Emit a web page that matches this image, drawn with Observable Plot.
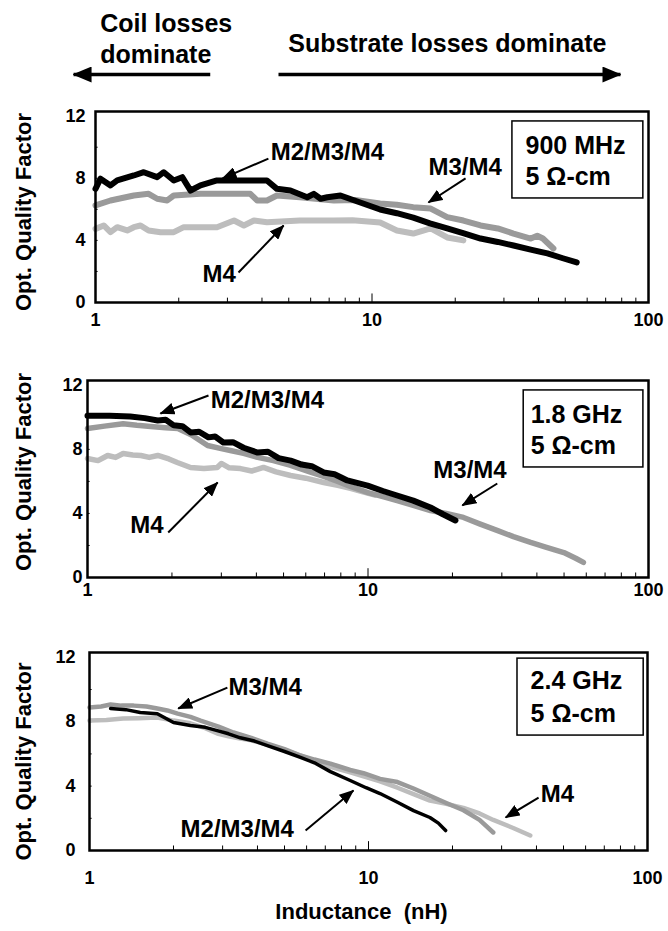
<!DOCTYPE html>
<html><head><meta charset="utf-8">
<script src="https://cdn.jsdelivr.net/npm/d3@7"></script>
<script src="https://cdn.jsdelivr.net/npm/@observablehq/plot@0.6"></script>
<style>
html,body{margin:0;padding:0;background:#fff;}
#fig{position:relative;width:668px;height:931px;overflow:hidden;background:#fff;}
</style></head><body><div id="fig"></div>
<script>
const FONT = "'Liberation Sans', Arial, Helvetica, sans-serif";

// ---------- 900 MHz ----------
const L_900_M234 = [1.0,1.042,1.133,1.198,1.376,1.495,1.671,1.766,1.919,2.059,2.207,2.397,2.75,3.3,3.8,4.17,4.53,5.07,5.83,6.16,6.52,6.89,7.69,8.7,10.7,12.3,14.1,16.2,18.7,21.5,24.7,28.5,32.5,37.5,43.1,49,55];
const Q_900_M234 = [7.32,7.97,7.54,7.86,8.18,8.39,8.07,8.39,7.86,8.07,7.21,7.54,7.86,7.86,7.86,7.86,7.32,7.21,6.78,7.0,6.68,6.78,6.89,6.55,5.99,5.75,5.47,5.1,4.77,4.45,4.12,3.9,3.67,3.4,3.16,2.85,2.58];
const L_900_M34 = [1.0,1.133,1.376,1.556,1.671,1.817,1.919,2.397,3.0,3.63,3.84,4.17,4.53,5.48,7.28,8.7,10.7,12.3,14.1,16.3,18.7,21.4,24.7,28.5,32.5,37.5,39.6,41.5,45.3];
const Q_900_M34 = [6.25,6.57,6.89,7.0,6.68,6.57,6.89,7.0,7.0,7.0,6.57,6.57,6.89,6.78,6.57,6.6,6.37,6.3,6.14,6.05,5.5,5.28,4.96,4.77,4.44,4.12,4.3,4.12,3.48];
const L_900_M4 = [1.0,1.071,1.133,1.198,1.302,1.376,1.455,1.556,1.718,1.919,2.086,2.75,3.17,3.44,3.74,4.17,5.48,7.28,8.5,10.7,12.3,14.1,16.3,18.7,21.4];
const Q_900_M4 = [4.74,4.96,4.53,4.85,4.64,4.85,4.96,4.64,4.53,4.53,4.85,4.85,5.28,4.96,5.28,5.17,5.28,5.28,5.3,5.15,4.64,4.44,4.77,4.19,4.0];

// ---------- 1.8 GHz ----------
const L_18_M234 = [1,1.2,1.42,1.6,1.78,1.9,2.03,2.18,2.33,2.5,2.7,2.85,3.05,3.3,3.6,4.04,4.4,4.8,5.3,5.8,6.3,6.95,7.6,8.44,9.97,11.3,12.7,14.5,16.7,18.5,20.5];
const Q_18_M234 = [10.1,10.1,10.05,9.95,9.8,9.85,9.5,9.45,9.06,9.1,8.75,8.8,8.43,8.45,8.1,7.8,7.85,7.45,7.3,7.05,6.95,6.56,6.45,6.06,5.74,5.4,5.12,4.8,4.37,3.95,3.56];
const L_18_M34 = [1,1.15,1.34,1.5,1.68,1.9,2.1,2.35,2.68,3.0,3.23,3.6,4.04,4.6,5.3,6.2,7.0,7.8,8.6,10,11.3,12.7,14.5,16.7,19,21.9,25,29,33,38,43,49.9,55,58.6];
const Q_18_M34 = [9.3,9.45,9.6,9.5,9.43,9.35,9.3,8.9,8.24,8.05,7.93,7.75,7.5,7.3,7.0,6.6,6.3,6.0,5.7,5.3,5.05,4.8,4.5,4.18,4.0,3.75,3.35,2.93,2.55,2.19,1.9,1.56,1.2,0.94];
const L_18_M4 = [1,1.09,1.18,1.26,1.34,1.45,1.55,1.66,1.78,1.95,2.09,2.33,2.6,2.9,3.0,3.2,3.51,3.85,4.24,4.7,5.3,6.0,6.95,7.8,8.66,9.6,10.6];
const Q_18_M4 = [7.43,7.3,7.62,7.5,7.74,7.65,7.62,7.5,7.62,7.4,7.18,6.87,6.8,6.87,7.12,6.85,6.8,6.65,6.87,6.6,6.37,6.2,5.93,5.75,5.56,5.35,5.15];

// ---------- 2.4 GHz ----------
const L_24_M234 = [1.19,1.35,1.52,1.75,2.0,2.3,2.6,2.87,3.15,3.47,3.9,4.34,5.0,5.7,6.4,7.3,8.6,9.8,11.0,12.7,14.5,16.6,17.8,18.9];
const Q_24_M234 = [8.82,8.75,8.57,8.5,7.95,7.76,7.65,7.45,7.25,7.0,6.8,6.52,6.15,5.78,5.45,4.9,4.35,3.9,3.54,3.0,2.48,2.05,1.7,1.24];
const L_24_M34 = [1,1.1,1.19,1.3,1.44,1.6,1.75,1.9,2.07,2.3,2.5,2.9,3.28,3.8,4.34,5.0,5.7,6.4,7.3,8.6,9.6,11,12.7,14.5,16.6,19,21.9,25,28];
const Q_24_M34 = [8.88,8.95,9.07,9.0,9.0,8.95,8.82,8.7,8.5,8.3,8.07,7.7,7.33,7.0,6.64,6.3,5.9,5.65,5.4,5.0,4.8,4.45,4.25,3.85,3.4,2.95,2.5,1.9,1.12];
const L_24_M4 = [1,1.15,1.32,1.5,1.75,2.0,2.3,2.6,2.87,3.15,3.47,3.8,4.2,4.8,5.5,6.3,7.3,8.6,9.6,11,12.7,14.5,16.6,19,21.9,25,28,33,38];
const Q_24_M4 = [8.07,8.1,8.2,8.22,8.26,8.07,7.9,7.6,7.27,7.1,6.96,6.85,6.64,6.35,6.0,5.6,5.2,4.85,4.6,4.3,3.9,3.5,3.1,2.9,2.65,2.3,1.9,1.4,0.93];

// ---------- ticks & labels ----------
const X_TICKS = [1, 10, 100];
const Y_TICKS = [0, 4, 8, 12];
const X_MINOR = [2,3,4,5,6,7,8,9,20,30,40,50,60,70,80,90];
const Y_MINOR = [2,4,6,8,10];
const Y_LABEL = "Opt. Quality Factor";
const X_LABEL = "Inductance\u00a0 (nH)";

// annotations (data coordinates: inductance nH, quality factor)
const NOTE_900 = [{text:"M2/M3/M4",x:4.30,y:9.69},{text:"M3/M4",x:16.0,y:8.73},{text:"M4",x:2.44,y:1.84}];
const ARROW_900 = [{x1:4.22,y1:9.27,x2:2.88,y2:7.99},{x1:21.8,y1:7.99,x2:16.0,y2:6.44},{x1:3.29,y1:1.93,x2:4.79,y2:4.96}];
const BOX_900 = [{x1:32.2,x2:95.8,y1:6.70,y2:11.66}];
const BOXTEXT_900 = [{text:"900 MHz",x:35.9,y:10.05},{text:"5 Ω-cm",x:35.9,y:8.11}];

const NOTE_18 = [{text:"M2/M3/M4",x:2.75,y:11.08},{text:"M3/M4",x:17.1,y:6.71},{text:"M4",x:1.42,y:3.28}];
const ARROW_18 = [{x1:2.70,y1:11.36,x2:1.82,y2:10.24},{x1:28.9,y1:5.87,x2:21.7,y2:4.50},{x1:1.94,y1:2.81,x2:2.91,y2:5.93}];
const BOX_18 = [{x1:35.9,x2:95.9,y1:6.87,y2:11.68}];
const BOXTEXT_18 = [{text:"1.8 GHz",x:38.0,y:10.12},{text:"5 Ω-cm",x:38.0,y:8.18}];

const NOTE_24 = [{text:"M3/M4",x:3.15,y:10.15},{text:"M2/M3/M4",x:2.12,y:1.34},{text:"M4",x:41.4,y:3.51}];
const ARROW_24 = [{x1:3.12,y1:10.12,x2:2.08,y2:8.82},{x1:5.95,y1:1.24,x2:8.83,y2:3.73},{x1:40.7,y1:3.29,x2:31.0,y2:2.05}];
const BOX_24 = [{x1:34.2,x2:96.9,y1:7.14,y2:11.92}];
const BOXTEXT_24 = [{text:"2.4 GHz",x:38.1,y:10.5},{text:"5 Ω-cm",x:38.1,y:8.5}];

const TOP_TEXT = [{text:"Coil losses",x:1.04,y:0.944},{text:"dominate",x:1.04,y:0.37},{text:"Substrate losses dominate",x:4.98,y:0.556}];
const TOP_ARROWS = [{x1:2.6,x2:0.833,y1:0,y2:0},{x1:4.59,x2:79.2,y1:0,y2:0}];

const BLACK = "#000", GRAY = "#9a9a9a", LIGHT = "#bdbdbd";

function headMaker(len, wid) {
  return function (color, context) {
    const doc = (context && context.document) || document;
    const ns = "http://www.w3.org/2000/svg";
    const m = doc.createElementNS(ns, "marker");
    m.setAttribute("viewBox", `0 ${-wid/2} ${len} ${wid}`);
    m.setAttribute("markerUnits", "userSpaceOnUse");
    m.setAttribute("markerWidth", len);
    m.setAttribute("markerHeight", wid);
    m.setAttribute("refX", len - 1);
    m.setAttribute("refY", 0);
    m.setAttribute("orient", "auto");
    const p = doc.createElementNS(ns, "path");
    p.setAttribute("d", `M0,${-wid/2}L${len},0L0,${wid/2}Z`);
    p.setAttribute("fill", color);
    p.setAttribute("stroke", "none");
    m.appendChild(p);
    return m;
  };
}
let HEAD_S = headMaker(15, 12), HEAD_L = headMaker(19, 16);
try {
  Plot.plot({marks: [Plot.link([0], {x1: 0, x2: 1, y1: 0, y2: 1, markerEnd: HEAD_S})]});
} catch (e) { HEAD_S = "arrow"; HEAD_L = "arrow"; }

const pts = (L, Q) => L.map((l, i) => ({L: l, Q: Q[i]}));
const fig = document.getElementById("fig");

function makePanel(c) {
  const mt = 20;
  const marks = [
    Plot.ruleX(X_MINOR, {y1: 0, y2: 0.28, stroke: "black", strokeWidth: 1}),
    Plot.ruleX([10], {y1: 0, y2: 0.55, stroke: "black", strokeWidth: 1}),
    Plot.ruleY(Y_MINOR, {x1: 1, x2: 1.022, stroke: "black", strokeWidth: 1}),
    Plot.line(pts(c.m4[0], c.m4[1]), {x: "L", y: "Q", stroke: LIGHT, strokeWidth: c.w[2], strokeLinejoin: "round"}),
    Plot.line(pts(c.m34[0], c.m34[1]), {x: "L", y: "Q", stroke: GRAY, strokeWidth: c.w[1], strokeLinejoin: "round"}),
    Plot.line(pts(c.m234[0], c.m234[1]), {x: "L", y: "Q", stroke: BLACK, strokeWidth: c.w[0], strokeLinejoin: "round"}),
    Plot.rect(c.box, {x1: "x1", x2: "x2", y1: "y1", y2: "y2", fill: "white", stroke: "black", strokeWidth: 1.5}),
    Plot.text(c.boxText, {x: "x", y: "y", text: "text", textAnchor: "start", fontSize: 25, fill: "black"}),
    Plot.link(c.arrows, {x1: "x1", y1: "y1", x2: "x2", y2: "y2", stroke: "black", strokeWidth: 2, markerEnd: HEAD_S}),
    Plot.text(c.notes, {x: "x", y: "y", text: "text", textAnchor: "start", fontSize: 24, fill: "black"}),
    Plot.frame({stroke: "black", strokeWidth: 2.5}),
    Plot.axisX(X_TICKS, {tickSize: 0, tickPadding: c.xPad, fontSize: 18, tickFormat: d => String(d), label: null}),
    Plot.axisY(Y_TICKS, {tickSize: 0, tickPadding: c.yPad, fontSize: 18, label: null}),
    Plot.text([Y_LABEL], {frameAnchor: "left", textAnchor: "middle", rotate: -90, dx: 23 - c.f.L, dy: c.labDy, fontSize: 22, fill: "black"})
  ];
  if (c.xLabel) marks.push(Plot.text([X_LABEL], {frameAnchor: "bottom", textAnchor: "middle", dx: -7, dy: 68, fontSize: 22, fill: "black"}));
  const svg = Plot.plot({
    width: 668,
    height: mt + (c.f.B - c.f.T) + c.mb,
    marginLeft: c.f.L, marginRight: 668 - c.f.R, marginTop: mt, marginBottom: c.mb,
    x: {type: "log", domain: [1, 100]},
    y: {domain: [0, 12.3]},
    style: {position: "absolute", left: "0px", top: (c.f.T - mt) + "px", fontFamily: FONT, fontWeight: "bold", color: "black", background: "transparent", overflow: "visible"},
    marks
  });
  fig.appendChild(svg);
}

// top annotation
fig.appendChild(Plot.plot({
  width: 668, height: 90, marginLeft: 95, marginRight: 20, marginTop: 0, marginBottom: 0,
  x: {type: "log", domain: [1, 100], axis: null},
  y: {domain: [0, 1], range: [74, 20], axis: null},
  style: {position: "absolute", left: "0px", top: "0px", fontFamily: FONT, fontWeight: "bold", color: "black", background: "transparent", overflow: "visible"},
  marks: [
    Plot.link(TOP_ARROWS, {x1: "x1", x2: "x2", y1: "y1", y2: "y2", stroke: "black", strokeWidth: 3.5, markerEnd: HEAD_L}),
    Plot.text(TOP_TEXT, {x: "x", y: "y", text: "text", textAnchor: "start", fontSize: 25, fill: "black"})
  ]
}));

makePanel({f: {L: 95, R: 648, T: 111, B: 302}, mb: 40, xPad: 11, yPad: 10, labDy: 5, w: [6, 6, 6],
  m234: [L_900_M234, Q_900_M234], m34: [L_900_M34, Q_900_M34], m4: [L_900_M4, Q_900_M4],
  notes: NOTE_900, arrows: ARROW_900, box: BOX_900, boxText: BOXTEXT_900});
makePanel({f: {L: 87, R: 648, T: 380, B: 577}, mb: 40, xPad: 6, yPad: 5, labDy: -7, w: [6, 5.5, 5.5],
  m234: [L_18_M234, Q_18_M234], m34: [L_18_M34, Q_18_M34], m4: [L_18_M4, Q_18_M4],
  notes: NOTE_18, arrows: ARROW_18, box: BOX_18, boxText: BOXTEXT_18});
makePanel({f: {L: 89, R: 647, T: 652, B: 850}, mb: 81, xPad: 21, yPad: 14, labDy: 10, w: [3.5, 4.5, 4.5], xLabel: true,
  m234: [L_24_M234, Q_24_M234], m34: [L_24_M34, Q_24_M34], m4: [L_24_M4, Q_24_M4],
  notes: NOTE_24, arrows: ARROW_24, box: BOX_24, boxText: BOXTEXT_24});
</script></body></html>
